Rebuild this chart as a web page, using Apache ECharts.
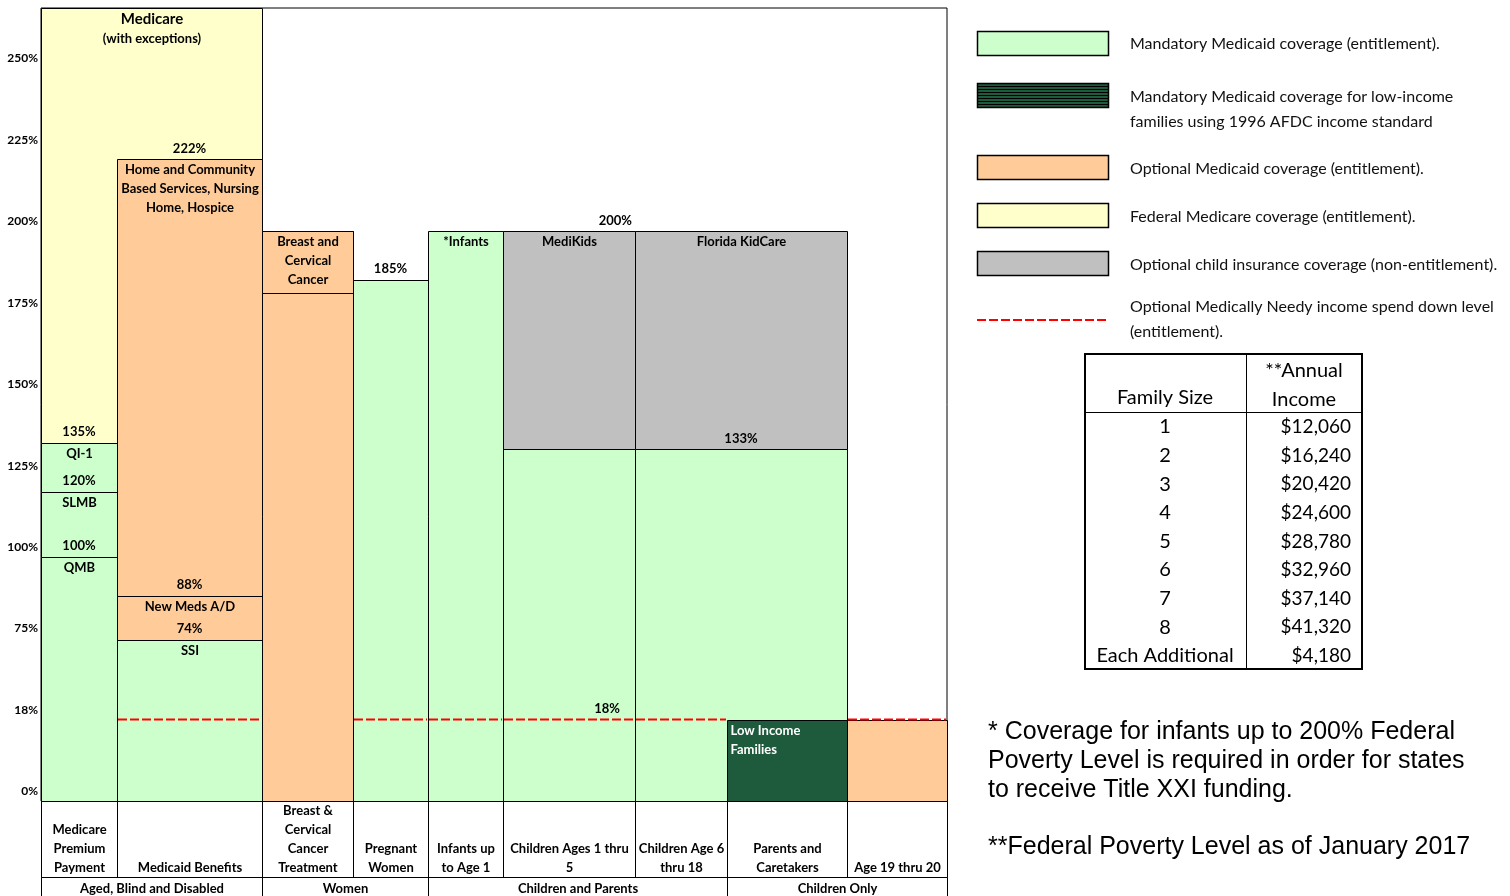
<!DOCTYPE html>
<html>
<head>
<meta charset="utf-8">
<title>Florida Medicaid coverage by income level</title>
<script src="https://cdn.jsdelivr.net/npm/echarts@6/dist/echarts.min.js"></script>
<style>
  html, body { margin: 0; padding: 0; background: #fff; }
  #chart { width: 1510px; height: 896px; }
</style>
</head>
<body>
<div id="chart"></div>
<script>
// income levels (% of federal poverty level) on the left axis
var yTicks = [0, 18, 75, 100, 125, 150, 175, 200, 225, 250];

var categories = [
  'Medicare\nPremium\nPayment', 'Medicaid Benefits', 'Breast &\nCervical\nCancer\nTreatment',
  'Pregnant\nWomen', 'Infants up\nto Age 1', 'Children Ages 1 thru\n5', 'Children Age 6\nthru 18',
  'Parents and\nCaretakers', 'Age 19 thru 20'
];
var groupNames = ['Aged, Blind and Disabled', 'Women', 'Children and Parents', 'Children Only'];
var groupSpans = [[0, 1], [2, 3], [4, 6], [7, 8]];

// coverage blocks: [first column, last column, from %, to % (null = open ended), coverage, name]
var blocks = [
  [0, 1, 135, null, 'medicare', '{big|Medicare}\n(with exceptions)'],
  [0, 0, 0, 100, 'mandatory', 'QMB'],
  [0, 0, 100, 120, 'mandatory', 'SLMB'],
  [0, 0, 120, 135, 'mandatory', 'QI-1'],
  [1, 1, 0, 74, 'mandatory', 'SSI'],
  [1, 1, 74, 88, 'optional', 'New Meds A/D'],
  [1, 1, 88, 222, 'optional', 'Home and Community\nBased Services, Nursing\nHome, Hospice'],
  [2, 2, 0, 200, 'optional', ''],
  [2, 2, 181, 200, 'optional', 'Breast and\nCervical\nCancer'],
  [3, 3, 0, 185, 'mandatory', ''],
  [4, 4, 0, 200, 'mandatory', '*Infants'],
  [5, 5, 0, 133, 'mandatory', ''],
  [5, 5, 133, 200, 'chip', 'MediKids'],
  [6, 7, 0, 133, 'mandatory', ''],
  [6, 7, 133, 200, 'chip', 'Florida KidCare'],
  [7, 7, 0, 18, 'afdc', 'Low Income\nFamilies'],
  [8, 8, 0, 18, 'optional', '']
];

// percentages written just above an edge: [first column, last column, %, align]
var edgeLabels = [
  [0, 0, 100], [0, 0, 120], [0, 0, 135], [1, 1, 74], [1, 1, 88], [1, 1, 222],
  [3, 3, 185], [5, 5, 200, 'right'], [5, 5, 18, 'right'], [6, 7, 133]
];

// medically needy income spend down level
var spendDown = 18;
var spendDownColumns = [1, 3, 4, 5, 6, 8];

var legendTypes = ['mandatory', 'afdc', 'optional', 'medicare', 'chip', 'spenddown'];
var legendTexts = [
  'Mandatory Medicaid coverage (entitlement).',
  'Mandatory Medicaid coverage for low-income\nfamilies using 1996 AFDC income standard',
  'Optional Medicaid coverage (entitlement).',
  'Federal Medicare coverage (entitlement).',
  'Optional child insurance coverage (non-entitlement).',
  'Optional Medically Needy income spend down level\n(entitlement).'
];

var familySizes = ['1', '2', '3', '4', '5', '6', '7', '8', 'Each Additional'];
var annualIncome = [12060, 16240, 20420, 24600, 28780, 32960, 37140, 41320, 4180];

var notes = [
  '* Coverage for infants up to 200% Federal\nPoverty Level is required in order for states\nto receive Title XXI funding.',
  '**Federal Poverty Level as of January 2017'
];

// ---- layout ----
var colWidths = [76, 145, 91, 75, 75, 132, 92, 120, 100];
var colEdges = [0];
colWidths.forEach(function (w) { colEdges.push(colEdges[colEdges.length - 1] + w); });
var plotHeight = 793;
var tickStep = 81.44;
var yMax = plotHeight / tickStep;

var coverageStyle = {
  mandatory: { fill: '#ccffcc' },
  optional: { fill: '#ffcc99' },
  medicare: { fill: '#ffffcc' },
  chip: { fill: '#c0c0c0' },
  afdc: { fill: '#1e5a3c', text: '#fff', align: 'left' }
};
var boldFont = 'bold 13px Lato';

// position of a percentage on the (evenly spaced) tick scale
function level(p) {
  for (var i = 1; i < yTicks.length; i++) {
    if (p <= yTicks[i]) return i - 1 + (p - yTicks[i - 1]) / (yTicks[i] - yTicks[i - 1]);
  }
  var n = yTicks.length - 1;
  return n + (p - yTicks[n]) / (yTicks[n] - yTicks[n - 1]);
}
function px(v) { return Math.round(v) + 0.5; }

function blockItem(params, api) {
  var b = blocks[params.dataIndex];
  var s = coverageStyle[b[4]];
  var a = api.coord([api.value(0), api.value(2)]);
  var c = api.coord([api.value(1), api.value(3)]);
  var x0 = px(a[0]), x1 = px(c[0]), yb = px(a[1]), yt = px(c[1]);
  var children = [{
    type: 'rect',
    shape: { x: x0, y: yt, width: x1 - x0, height: yb - yt },
    style: { fill: s.fill, stroke: '#000', lineWidth: 1 }
  }];
  if (b[5]) {
    children.push({
      type: 'text',
      style: {
        text: b[5],
        x: s.align === 'left' ? x0 + 3 : (x0 + x1) / 2,
        y: yt + 1,
        align: s.align || 'center',
        verticalAlign: 'top',
        font: boldFont,
        lineHeight: 19,
        fill: s.text || '#000',
        rich: { big: { font: 'bold 15px Lato', lineHeight: 20 } }
      }
    });
  }
  return { type: 'group', children: children };
}

function edgeItem(params, api) {
  var e = edgeLabels[params.dataIndex];
  var a = api.coord([api.value(0), api.value(2)]);
  var c = api.coord([api.value(1), api.value(2)]);
  var right = e[3] === 'right';
  return {
    type: 'text',
    style: {
      text: e[2] + '%',
      x: right ? c[0] - (e[2] === 200 ? 3 : 15) : (a[0] + c[0]) / 2,
      y: a[1] - 1,
      align: right ? 'right' : 'center',
      verticalAlign: 'bottom',
      font: boldFont,
      lineHeight: 19,
      fill: '#000'
    }
  };
}

function dashItem(params, api) {
  var a = api.coord([api.value(0), api.value(2)]);
  var c = api.coord([api.value(1), api.value(2)]);
  return {
    type: 'line',
    shape: { x1: a[0] + 1, y1: a[1], x2: c[0] - 1, y2: a[1] },
    style: { stroke: '#ff0000', lineWidth: 2, lineDash: [9, 3] }
  };
}

function categoryItem(params, api) {
  var a = api.coord([api.value(0), 0]);
  var c = api.coord([api.value(1), 0]);
  var x0 = px(a[0]), x1 = px(c[0]), y0 = px(a[1]);
  return {
    type: 'group',
    children: [
      { type: 'rect', shape: { x: x0, y: y0, width: x1 - x0, height: 76 },
        style: { fill: 'none', stroke: '#000', lineWidth: 1 } },
      { type: 'text', style: { text: categories[params.dataIndex], x: (x0 + x1) / 2, y: y0 + 76,
        align: 'center', verticalAlign: 'bottom', font: boldFont, lineHeight: 19, fill: '#000' } }
    ]
  };
}

function groupItem(params, api) {
  var a = api.coord([api.value(0), 0]);
  var c = api.coord([api.value(1), 0]);
  var x0 = px(a[0]), x1 = px(c[0]), y0 = px(a[1]) + 76;
  return {
    type: 'group',
    children: [
      { type: 'rect', shape: { x: x0, y: y0, width: x1 - x0, height: 22 },
        style: { fill: 'none', stroke: '#000', lineWidth: 1 } },
      { type: 'text', style: { text: groupNames[params.dataIndex], x: (x0 + x1) / 2, y: y0 + 11,
        align: 'center', verticalAlign: 'middle', font: boldFont, fill: '#000' } }
    ]
  };
}

// ---- legend, poverty table and notes (right side) ----
var graphics = [];
var legendRows = [[43, 43], [95, 96], [167, 168], [215, 216], [263, 264], [320, 306]];
legendTypes.forEach(function (t, i) {
  var cy = legendRows[i][0];
  if (t === 'spenddown') {
    graphics.push({ type: 'line', shape: { x1: 977, y1: cy, x2: 1108, y2: cy },
      style: { stroke: '#ff0000', lineWidth: 2, lineDash: [9, 3] } });
  } else {
    graphics.push({ type: 'rect', shape: { x: 977.5, y: cy - 11.5, width: 131, height: 24 },
      style: { fill: coverageStyle[t].fill, stroke: '#000', lineWidth: 1.5 } });
    if (t === 'afdc') {
      for (var k = 1; k < 8; k++) {
        graphics.push({ type: 'line', shape: { x1: 978, y1: cy - 11.5 + k * 3, x2: 1108, y2: cy - 11.5 + k * 3 },
          style: { stroke: '#000', lineWidth: 1 } });
      }
    }
  }
  graphics.push({ type: 'text', style: { text: legendTexts[i], x: 1130, y: legendRows[i][1] - 12,
    verticalAlign: 'top', font: '16px Lato', lineHeight: 25, fill: '#111' } });
});

var tblX = 1085, tblY = 354, tblW = 277, tblH = 315, tblSplit = 1246, rowStep = 28.6;
graphics.push(
  { type: 'rect', shape: { x: tblX, y: tblY, width: tblW, height: tblH },
    style: { fill: '#fff', stroke: '#000', lineWidth: 2 } },
  { type: 'line', shape: { x1: tblSplit + 0.5, y1: tblY, x2: tblSplit + 0.5, y2: tblY + tblH },
    style: { stroke: '#000', lineWidth: 1 } },
  { type: 'line', shape: { x1: tblX, y1: 412.5, x2: tblX + tblW, y2: 412.5 },
    style: { stroke: '#000', lineWidth: 1 } },
  { type: 'text', style: { text: 'Family Size', x: 1165, y: 398, align: 'center', verticalAlign: 'middle',
    font: '20px Lato', fill: '#000' } },
  { type: 'text', style: { text: '**Annual\nIncome', x: 1304, y: 356, align: 'center', verticalAlign: 'top',
    font: '20px Lato', lineHeight: 29, fill: '#000' } }
);
familySizes.forEach(function (f, i) {
  var cy = 427 + i * rowStep;
  graphics.push(
    { type: 'text', style: { text: f, x: 1165, y: cy, align: 'center', verticalAlign: 'middle',
      font: '20px Lato', fill: '#000' } },
    { type: 'text', style: { text: '$' + annualIncome[i].toLocaleString('en-US'), x: 1351, y: cy,
      align: 'right', verticalAlign: 'middle', font: '19px Lato', fill: '#000' } }
  );
});
graphics.push(
  { type: 'text', style: { text: notes[0], x: 988, y: 718, verticalAlign: 'top',
    font: '25px "Liberation Sans"', lineHeight: 29, fill: '#000' } },
  { type: 'text', style: { text: notes[1], x: 988, y: 833, verticalAlign: 'top',
    font: '25px "Liberation Sans"', lineHeight: 29, fill: '#000' } }
);

var chart = echarts.init(document.getElementById('chart'));
chart.setOption({
  animation: false,
  backgroundColor: '#fff',
  grid: { left: 41, top: 8, width: 906, height: plotHeight, show: true,
    borderColor: '#000', borderWidth: 1, backgroundColor: '#fff' },
  xAxis: { type: 'value', min: 0, max: colEdges[colEdges.length - 1], show: false },
  yAxis: {
    type: 'value', min: 0, max: yMax, interval: 1,
    axisLine: { show: false }, axisTick: { show: false }, splitLine: { show: false },
    axisLabel: {
      showMaxLabel: false,
      margin: 3,
      verticalAlign: 'bottom',
      lineHeight: 19,
      color: '#000',
      fontFamily: 'Lato', fontWeight: 'bold', fontSize: 12,
      formatter: function (v) {
        return Math.abs(v - Math.round(v)) < 1e-6 && yTicks[Math.round(v)] != null ? yTicks[Math.round(v)] + '%' : '';
      }
    }
  },
  graphic: { elements: graphics },
  series: [
    {
      type: 'custom', silent: true, clip: false, z: 2,
      renderItem: blockItem,
      data: blocks.map(function (b) {
        return [colEdges[b[0]], colEdges[b[1] + 1], level(b[2]), b[3] == null ? yMax : level(b[3])];
      })
    },
    {
      type: 'custom', silent: true, clip: false, z: 3,
      renderItem: dashItem,
      data: spendDownColumns.map(function (c) { return [colEdges[c], colEdges[c + 1], level(spendDown)]; })
    },
    {
      type: 'custom', silent: true, clip: false, z: 4,
      renderItem: edgeItem,
      data: edgeLabels.map(function (e) { return [colEdges[e[0]], colEdges[e[1] + 1], level(e[2])]; })
    },
    {
      type: 'custom', silent: true, clip: false, z: 4,
      renderItem: categoryItem,
      data: categories.map(function (c, i) { return [colEdges[i], colEdges[i + 1]]; })
    },
    {
      type: 'custom', silent: true, clip: false, z: 4,
      renderItem: groupItem,
      data: groupSpans.map(function (g) { return [colEdges[g[0]], colEdges[g[1] + 1]]; })
    }
  ]
});
</script>
</body>
</html>
